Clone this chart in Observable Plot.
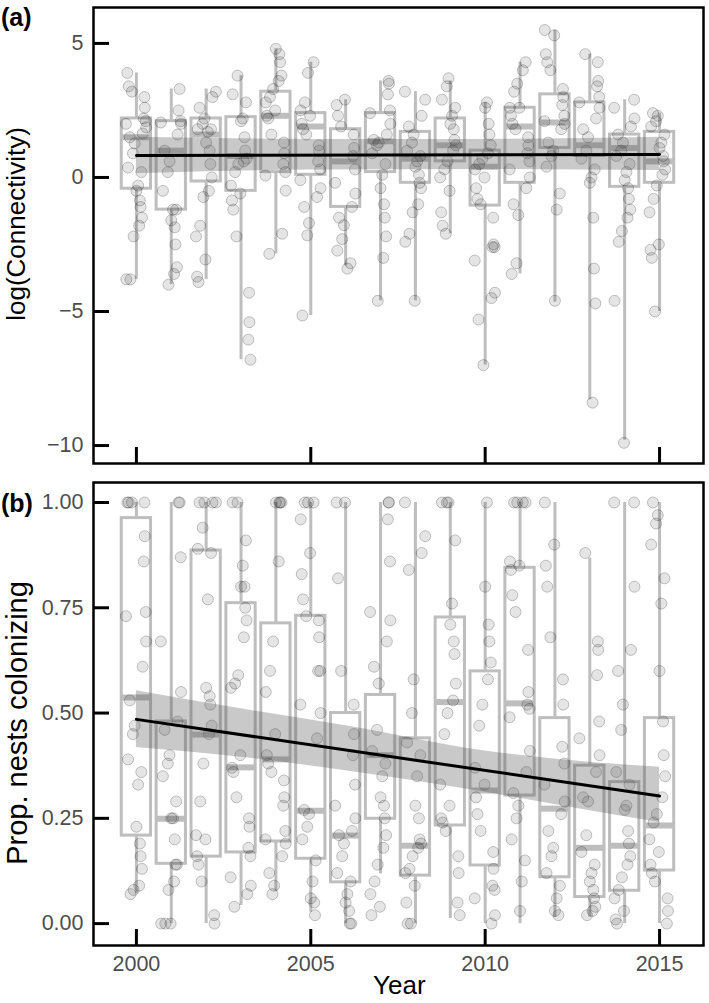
<!DOCTYPE html>
<html>
<head>
<meta charset="utf-8">
<script src="https://cdn.jsdelivr.net/npm/d3@7"></script>
<script src="https://cdn.jsdelivr.net/npm/@observablehq/plot@0.6"></script>
<style>
  html, body { margin: 0; padding: 0; background: #fff; }
  #wrap { position: relative; width: 709px; height: 1003px; font-family: "Liberation Sans", Arial, Helvetica, sans-serif; overflow: hidden; }
  .svgbox { position: absolute; left: 0; }
  .lab { position: absolute; white-space: nowrap; color: #000; }
  .rot { transform: translate(-50%, -50%) rotate(-90deg); }
</style>
</head>
<body>
<div id="wrap"></div>
<script>
// ---------------- DATA ----------------
const years = [2000,2001,2002,2003,2004,2005,2006,2007,2008,2009,2010,2011,2012,2013,2014,2015];
const xTicks = [2000, 2005, 2010, 2015];

// Panel (a): log(Connectivity) boxplot summaries
const connHi  = [3.9, 3.3, 3.3, 3.8, 4.8, 4.3, 2.9, 3.6, 3.2, 3.6, 2.8, 4.3, 5.5, 4.6, 2.9, 2.4];
const connQ3  = [2.2, 2.1, 2.2, 2.25, 3.2, 2.4, 1.8, 2.4, 1.7, 2.2, 1.0, 2.6, 3.1, 2.8, 1.6, 1.7];
const connMed = [1.5, 1.0, 1.6, 0.8, 2.3, 1.9, 0.6, 1.35, 0.7, 1.2, 0.4, 1.9, 2.05, 1.2, 1.1, 0.6];
const connQ1  = [-0.42, -1.2, -0.15, -0.5, 0.2, 0.1, -1.1, 0.2, -0.2, 0.6, -1.05, -0.2, 1.1, 0.8, -0.35, -0.2];
const connLo  = [-3.8, -4.0, -3.8, -6.8, -2.85, -5.15, -3.3, -4.6, -4.6, -2.1, -7.0, -3.6, -4.65, -8.3, -9.8, -5.0];

const connPoints = [
  [3.9, 3.4, 3.2, 3.0, 2.6, 2.2, 2.1, 2.0, 1.87, 1.64, 1.5, 1.27, 0.9, 0.37, 0.2, -0.3, -0.5, -0.86, -1.1, -1.5, -1.8, -2.2, -3.8, -3.8],
  [3.3, 2.5, 2.1, 2.05, 2.0, 1.6, 1.0, 0.6, 0.2, -0.5, -1.2, -1.2, -1.6, -1.86, -2.5, -3.35, -3.6, -4.0],
  [3.2, 3.0, 2.6, 2.2, 2.0, 1.8, 1.8, 1.7, 1.3, 1.0, 0.5, 0.0, -0.5, -0.73, -1.8, -2.2, -3.06, -3.7, -3.9],
  [3.8, 3.1, 2.8, 2.2, 2.1, 1.5, 1.0, 0.7, 0.6, 0.5, 0.2, -0.3, -0.6, -0.86, -1.2, -2.2, -4.3, -5.4, -6.05, -6.8],
  [4.8, 4.6, 4.3, 3.8, 3.6, 3.3, 3.0, 2.8, 2.5, 2.3, 2.2, 1.6, 1.3, 0.9, 0.5, 0.2, 0.07, -0.49, -2.1, -2.85],
  [4.3, 3.9, 2.8, 2.5, 2.3, 2.0, 1.8, 1.6, 1.2, 1.0, 0.6, 0.3, -0.1, -0.4, -0.73, -1.1, -1.7, -2.16, -5.15],
  [2.9, 2.7, 2.3, 1.9, 1.6, 1.1, 0.8, 0.3, -0.2, -0.6, -1.1, -1.5, -1.78, -2.3, -2.73, -3.2, -3.4],
  [3.6, 3.5, 3.1, 2.5, 2.4, 2.0, 1.6, 1.4, 1.3, 1.2, 0.9, 0.5, 0.1, -0.4, -1.0, -1.5, -2.2, -3.0, -4.6],
  [3.2, 2.9, 2.3, 1.9, 1.6, 1.3, 1.0, 0.8, 0.6, 0.4, 0.1, -0.2, -0.4, -1.0, -1.3, -2.1, -2.4, -4.6],
  [3.7, 3.4, 2.9, 2.6, 2.3, 2.0, 1.8, 1.4, 1.2, 1.0, 0.6, 0.3, 0.0, -0.5, -1.3, -1.8, -2.1],
  [2.8, 2.6, 2.0, 1.6, 1.2, 0.9, 0.7, 0.5, 0.3, 0.0, -0.4, -0.8, -1.0, -1.5, -2.5, -2.6, -2.6, -3.1, -4.3, -4.5, -5.3, -7.0],
  [4.3, 4.0, 3.5, 3.2, 2.6, 2.6, 2.3, 2.0, 1.8, 1.5, 1.2, 0.9, 0.6, 0.3, 0.0, -0.4, -1.0, -1.4, -3.2, -3.6],
  [5.5, 5.3, 4.6, 4.3, 4.0, 3.3, 3.0, 2.7, 2.3, 2.1, 2.0, 1.8, 1.3, 1.0, 0.8, 0.4, -0.6, -1.2, -4.6],
  [4.6, 4.3, 3.6, 3.4, 3.0, 2.8, 2.6, 2.2, 1.8, 1.5, 1.0, 0.7, 0.3, 0.0, -0.2, -1.5, -3.4, -4.7, -8.4],
  [2.9, 2.6, 2.2, 1.9, 1.6, 1.3, 1.0, 0.8, 0.5, 0.2, -0.1, -0.4, -0.8, -1.2, -1.5, -2.0, -2.4, -4.6, -9.9],
  [2.4, 2.3, 2.1, 1.9, 1.6, 1.3, 1.1, 0.8, 0.6, 0.3, 0.1, -0.3, -0.8, -1.3, -2.5, -2.7, -3.0, -5.0]
];

// Panel (a): fitted line and confidence band
const connFitYears = [2000, 2015];
const connFit      = [0.82, 0.86];
const connBandYears = [2000, 2005, 2010, 2015];
const connBandLo    = [0.14, 0.28, 0.3, 0.26];
const connBandHi    = [1.5, 1.42, 1.42, 1.5];

// Panel (b): Prop. nests colonizing boxplot summaries
const propHi  = [1, 1, 1, 1, 1, 1, 1, 1, 1, 1, 1, 1, 1, 0.868, 1, 1];
const propQ3  = [0.963, 0.48, 0.886, 0.761, 0.713, 0.731, 0.50, 0.543, 0.44, 0.727, 0.599, 0.845, 0.488, 0.375, 0.336, 0.488];
const propMed = [0.537, 0.249, 0.449, 0.371, 0.39, 0.268, 0.209, 0.40, 0.185, 0.526, 0.316, 0.523, 0.273, 0.18, 0.185, 0.233];
const propQ1  = [0.209, 0.142, 0.159, 0.169, 0.195, 0.154, 0.098, 0.249, 0.114, 0.233, 0.138, 0.304, 0.11, 0.063, 0.078, 0.126];
const propLo  = [0.071, 0, 0, 0.043, 0.077, 0.027, 0, 0.118, 0, 0.012, 0, 0, 0.015, 0.015, 0, 0];

const propPoints = [
  [1, 1, 1, 1, 0.92, 0.86, 0.74, 0.73, 0.67, 0.61, 0.53, 0.47, 0.45, 0.39, 0.36, 0.33, 0.23, 0.19, 0.16, 0.13, 0.09, 0.08, 0.07],
  [1, 1, 0.87, 0.67, 0.55, 0.48, 0.46, 0.40, 0.38, 0.35, 0.29, 0.25, 0.25, 0.20, 0.14, 0.14, 0.10, 0.08, 0, 0, 0],
  [1, 1, 1, 1, 0.94, 0.89, 0.88, 0.77, 0.56, 0.54, 0.52, 0.47, 0.45, 0.38, 0.29, 0.21, 0.20, 0.16, 0.14, 0.10, 0.02, 0],
  [1, 1, 0.91, 0.85, 0.80, 0.80, 0.75, 0.72, 0.68, 0.59, 0.57, 0.56, 0.40, 0.37, 0.36, 0.30, 0.25, 0.23, 0.18, 0.16, 0.11, 0.09, 0.07, 0.04],
  [1, 1, 1, 1, 0.86, 0.67, 0.60, 0.55, 0.45, 0.40, 0.38, 0.36, 0.34, 0.30, 0.28, 0.22, 0.20, 0.19, 0.16, 0.12, 0.09, 0.07],
  [1, 1, 1, 0.96, 0.88, 0.83, 0.77, 0.73, 0.72, 0.68, 0.60, 0.60, 0.52, 0.50, 0.44, 0.27, 0.26, 0.23, 0.20, 0.15, 0.10, 0.06, 0.05, 0.02],
  [1, 1, 0.82, 0.60, 0.52, 0.45, 0.40, 0.33, 0.28, 0.25, 0.22, 0.21, 0.19, 0.16, 0.12, 0.10, 0.07, 0.05, 0.03, 0, 0],
  [1, 1, 0.96, 0.86, 0.74, 0.72, 0.67, 0.61, 0.57, 0.46, 0.41, 0.38, 0.35, 0.30, 0.28, 0.25, 0.21, 0.18, 0.14, 0.10, 0.07, 0.04, 0.02],
  [1, 0.92, 0.88, 0.84, 0.58, 0.50, 0.43, 0.40, 0.35, 0.28, 0.25, 0.20, 0.19, 0.18, 0.16, 0.13, 0.12, 0.09, 0.05, 0, 0],
  [1, 1, 1, 0.91, 0.76, 0.71, 0.67, 0.64, 0.57, 0.53, 0.50, 0.45, 0.33, 0.28, 0.25, 0.24, 0.22, 0.16, 0.12, 0.05, 0.02],
  [1, 0.80, 0.71, 0.67, 0.62, 0.58, 0.52, 0.47, 0.37, 0.33, 0.30, 0.26, 0.22, 0.17, 0.13, 0.09, 0.08, 0.06, 0.02, 0],
  [1, 1, 1, 1, 0.86, 0.85, 0.84, 0.78, 0.74, 0.65, 0.55, 0.52, 0.51, 0.49, 0.41, 0.36, 0.31, 0.28, 0.25, 0.20, 0.15, 0.10, 0.03],
  [1, 0.90, 0.85, 0.80, 0.68, 0.58, 0.52, 0.42, 0.38, 0.33, 0.29, 0.26, 0.22, 0.18, 0.16, 0.12, 0.09, 0.06, 0.03, 0.02],
  [0.88, 0.67, 0.65, 0.59, 0.48, 0.44, 0.40, 0.36, 0.30, 0.29, 0.21, 0.17, 0.14, 0.12, 0.10, 0.08, 0.06, 0.04, 0.03, 0.02],
  [1, 1, 0.80, 0.65, 0.60, 0.52, 0.46, 0.36, 0.33, 0.28, 0.27, 0.22, 0.19, 0.16, 0.14, 0.11, 0.08, 0.06, 0.03, 0.01, 0],
  [1, 0.97, 0.95, 0.90, 0.82, 0.76, 0.60, 0.48, 0.40, 0.35, 0.30, 0.26, 0.24, 0.20, 0.17, 0.14, 0.12, 0.10, 0.06, 0.03, 0]
];

// Panel (b): fitted line and confidence band
const propFitYears  = [2000, 2015];
const propFit       = [0.485, 0.303];
const propBandYears = [2000, 2003, 2006, 2010, 2013, 2015];
const propBandLo    = [0.418, 0.395, 0.363, 0.312, 0.268, 0.24];
const propBandHi    = [0.553, 0.51, 0.47, 0.41, 0.383, 0.371];

// horizontal jitter offsets (years)
const jitter = [-0.26, 0.12, -0.05, 0.24, -0.17, 0.05, 0.28, -0.22, 0.16, -0.1, 0.21, -0.29, 0.0, 0.18, -0.13, 0.08, -0.24, 0.27, -0.02, 0.1, -0.19, 0.23, -0.08, 0.14, -0.3];

// ---------------- BUILD ----------------
const FONT = '"Liberation Sans", Arial, Helvetica, sans-serif';
const GREY = "#bebebe";
const HALF = 0.42;

function boxTable(hi, q3, med, q1, lo) {
  return years.map((y, i) => ({year: y, hi: hi[i], q3: q3[i], med: med[i], q1: q1[i], lo: lo[i]}));
}
function pointTable(pts) {
  const out = [];
  pts.forEach((arr, i) => arr.forEach((v, j) => out.push({year: years[i], v, dx: jitter[(j * 7 + i * 3) % jitter.length]})));
  return out;
}
function seriesTable(xs, a, b) {
  return xs.map((x, i) => ({year: x, a: a[i], b: b ? b[i] : undefined}));
}
const minusFmt = d => (d < 0 ? "\u2212" + Math.abs(d) : String(d));

function panel({height, marginTop, marginBottom, yDomain, yTicks, yFmt, boxes, points, fit, band, xLabels}) {
  return Plot.plot({
    width: 709, height,
    marginLeft: 93, marginRight: 6, marginTop, marginBottom,
    style: {fontFamily: FONT, background: "white"},
    x: {domain: [1998.77, 2016.26]},
    y: {domain: yDomain},
    marks: [
      Plot.ruleX(boxes, {x: "year", y1: "q3", y2: "hi", stroke: GREY, strokeWidth: 3}),
      Plot.ruleX(boxes, {x: "year", y1: "q1", y2: "lo", stroke: GREY, strokeWidth: 3}),
      Plot.rect(boxes, {x1: d => d.year - HALF, x2: d => d.year + HALF, y1: "q1", y2: "q3", fill: "white", stroke: GREY, strokeWidth: 3}),
      Plot.ruleY(boxes, {y: "med", x1: d => d.year - HALF, x2: d => d.year + HALF, stroke: GREY, strokeWidth: 6}),
      Plot.dot(points, {x: d => d.year + d.dx, y: "v", r: 5.5, fill: "black", fillOpacity: 0.1, stroke: "black", strokeOpacity: 0.22, strokeWidth: 1}),
      Plot.areaY(band, {x: "year", y1: "a", y2: "b", fill: "#4d4d4d", fillOpacity: 0.3, curve: "monotone-x"}),
      Plot.line(fit, {x: "year", y: "a", stroke: "black", strokeWidth: 3}),
      Plot.frame({stroke: "black", strokeWidth: 2.5}),
      Plot.axisY({ticks: yTicks, tickFormat: yFmt, tickSize: -16, tickPadding: 26, strokeWidth: 3, stroke: "black", fill: "#4d4d4d", fontSize: 21.5, label: null}),
      Plot.axisX({ticks: xTicks, tickFormat: xLabels ? (d => String(d)) : (() => ""), tickSize: -16, tickPadding: 26, strokeWidth: 3, stroke: "black", fill: "#4d4d4d", fontSize: 21.5, label: null})
    ]
  });
}

const wrap = document.getElementById("wrap");

const pa = panel({
  height: 470, marginTop: 7, marginBottom: 7,
  yDomain: [-10.67, 6.34], yTicks: [-10, -5, 0, 5], yFmt: minusFmt,
  boxes: boxTable(connHi, connQ3, connMed, connQ1, connLo),
  points: pointTable(connPoints),
  fit: seriesTable(connFitYears, connFit),
  band: seriesTable(connBandYears, connBandLo, connBandHi),
  xLabels: false
});
pa.classList.add("svgbox"); pa.style.top = "0px";
wrap.appendChild(pa);

const pb = panel({
  height: 533, marginTop: 12, marginBottom: 58,
  yDomain: [-0.052, 1.0475], yTicks: [0, 0.25, 0.5, 0.75, 1], yFmt: d => d.toFixed(2),
  boxes: boxTable(propHi, propQ3, propMed, propQ1, propLo),
  points: pointTable(propPoints),
  fit: seriesTable(propFitYears, propFit),
  band: seriesTable(propBandYears, propBandLo, propBandHi),
  xLabels: true
});
pb.classList.add("svgbox"); pb.style.top = "470px";
wrap.appendChild(pb);

function addLabel(text, css, cls) {
  const d = document.createElement("div");
  d.className = "lab" + (cls ? " " + cls : "");
  d.textContent = text;
  Object.assign(d.style, css);
  wrap.appendChild(d);
}
addLabel("(a)", {left: "1px", top: "3px", fontSize: "25px", fontWeight: "bold", lineHeight: "28px"});
addLabel("(b)", {left: "1px", top: "489px", fontSize: "25px", fontWeight: "bold", lineHeight: "28px"});
addLabel("log(Connectivity)", {left: "16px", top: "224px", fontSize: "26px", lineHeight: "28px"}, "rot");
addLabel("Prop. nests colonizing", {left: "17px", top: "723px", fontSize: "29px", lineHeight: "31px"}, "rot");
addLabel("Year", {left: "373px", top: "972px", fontSize: "26px", lineHeight: "26px"});
</script>
</body>
</html>
